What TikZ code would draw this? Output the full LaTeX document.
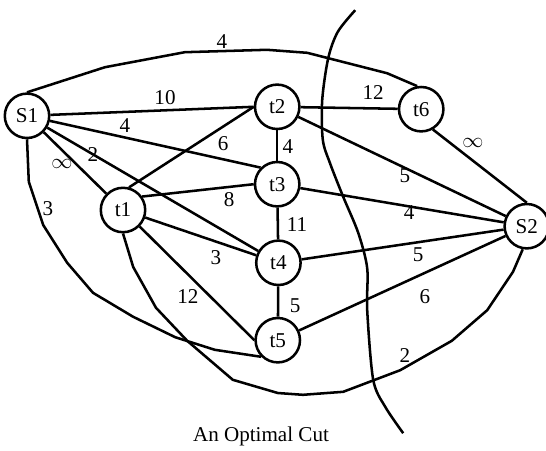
\documentclass[tikz,border=0pt]{standalone}
\usepackage{fontspec}
\setmainfont{Liberation Serif}
\begin{document}
\begin{tikzpicture}[line width=1.2pt,
  vertex/.style={circle, draw, minimum size=0.74cm, inner sep=0pt},
  weight/.style={inner sep=1pt}]
  \useasboundingbox (0,0) rectangle (9.1,7.5);

  % Vertices
  \node[vertex] (S1) at (0.45, 5.57) {S1};
  \node[vertex] (t1) at (2.05, 4.00) {t1};
  \node[vertex] (t2) at (4.62, 5.72) {t2};
  \node[vertex] (t3) at (4.62, 4.43) {t3};
  \node[vertex] (t4) at (4.64, 3.12) {t4};
  \node[vertex] (t5) at (4.63, 1.83) {t5};
  \node[vertex] (t6) at (7.02, 5.68) {t6};
  \node[vertex] (S2) at (8.78, 3.73) {S2};

  % Straight edges
  \foreach \a/\b in {S1/t2.west, S1/t3.north west, S1/t4, S1/t1,
                     t1.75/t2.west, t1.35/t3.west, t1/t4, t1/t5.west,
                     t2/t3, t3/t4, t4/t5, t2/t6,
                     t2/S2, t6.-60/S2.north, t3/S2, t4/S2, t5/S2}
    \draw (\a) -- (\b);

  % Bent edges
  \draw (S1.north) -- (1.75,6.38) -- (3.08,6.63) -- (4.45,6.67) -- (5.12,6.62)
    -- (6.45,6.28) -- (t6.100);
  \draw (S1.south) -- (0.48,4.47) -- (0.72,3.75) -- (1.12,3.12) -- (1.55,2.62)
    -- (2.22,2.22) -- (2.92,1.88) -- (3.58,1.67) -- (t5.south west);
  \draw (t1.south) -- (2.22,3.05) -- (2.60,2.37) -- (3.12,1.82) -- (3.88,1.17)
    -- (4.63,0.95) -- (5.05,0.92) -- (5.72,0.97) -- (6.67,1.33) -- (7.53,1.82)
    -- (8.12,2.33) -- (8.55,2.97) -- (S2.260);

  % Edge weights
  \foreach \n/\x/\y/\t in {wa/3.70/6.80/4, wb/2.75/5.87/10, wc/2.08/5.40/4,
      wd/1.55/4.92/2, we/1.03/4.77/$\infty$, wf/3.72/5.10/6, wg/3.82/4.17/8,
      wh/3.60/3.20/3, wi/3.13/2.55/12, wj/0.80/4.03/3, wk/4.80/5.05/4,
      wl/4.95/3.75/11, wm/4.92/2.40/5, wn/6.22/5.95/12, wo/7.88/5.12/$\infty$,
      wp/6.75/4.58/5, wq/6.82/3.95/4, wr/6.97/3.25/5, ws/7.08/2.55/6,
      wt/6.75/1.57/2}
    \node[weight] (\n) at (\x,\y) {\t};

  % The cut
  \draw plot[smooth, tension=0.5] coordinates {(5.92,7.33) (5.63,6.97)
    (5.47,6.53) (5.37,5.83) (5.38,5.17) (5.50,4.78) (5.72,4.22) (5.97,3.62)
    (6.12,3.03) (6.12,2.33) (6.22,1.17) (6.42,0.72) (6.72,0.28)};

  \node (caption) at (4.35,0.22) {An Optimal Cut};
\end{tikzpicture}
\end{document}
